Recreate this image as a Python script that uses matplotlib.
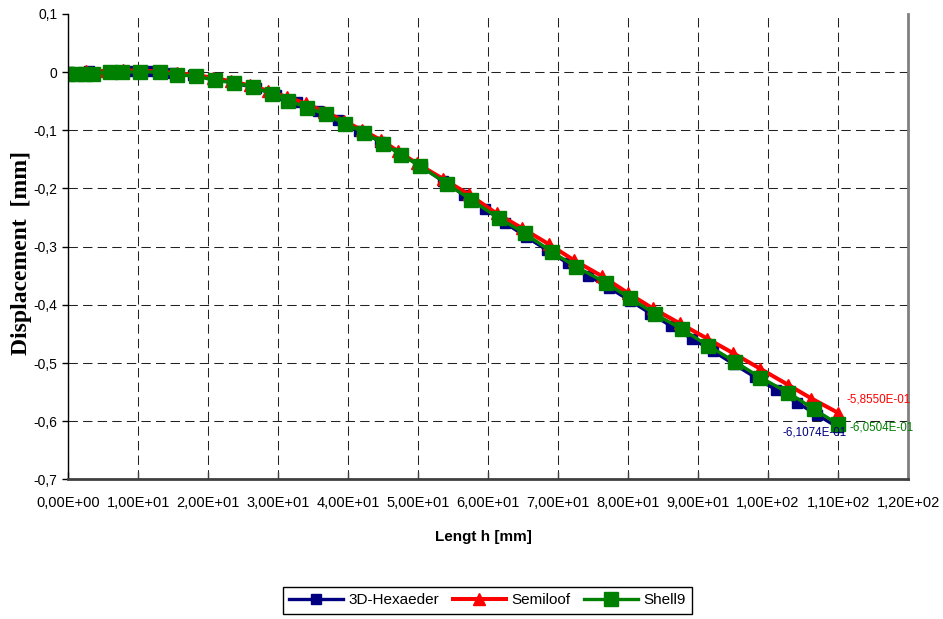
import matplotlib
matplotlib.use("Agg")
import matplotlib.pyplot as plt

plt.rcParams['font.family'] = ['Liberation Sans', 'DejaVu Sans']

# values (length in mm, displacement in mm)
hexa_x = [0, 3.0, 5.9, 8.9, 11.9, 14.9, 17.8, 20.8, 23.8, 26.8, 29.7, 32.7, 35.7,
          38.6, 41.6, 44.6, 47.6, 50.5, 53.5, 56.5, 59.5, 62.4, 65.4, 68.4, 71.4,
          74.3, 77.3, 80.3, 83.2, 86.2, 89.2, 92.2, 95.1, 98.1, 101.1, 104.1, 107.0, 110.0]
hexa_y = [0.0, 0.001, 0.002, 0.002, 0.001, -0.002, -0.006, -0.012, -0.019, -0.028,
          -0.039, -0.052, -0.067, -0.083, -0.101, -0.120, -0.141, -0.163, -0.187,
          -0.211, -0.235, -0.259, -0.283, -0.306, -0.329, -0.350, -0.371, -0.393,
          -0.415, -0.437, -0.459, -0.480, -0.502, -0.524, -0.546, -0.568, -0.589, -0.61074]

semi_x = [0, 2.6, 5.2, 7.8, 10.4, 13.0, 15.5, 18.1, 20.7, 23.3, 25.9, 28.5, 31.2,
          33.9, 36.6, 39.4, 42.0, 44.7, 47.1, 49.8, 53.6, 57.2, 61.2, 64.8, 68.7,
          72.2, 76.3, 80.0, 83.5, 87.4, 91.3, 95.0, 98.9, 102.8, 106.2, 110.0]
semi_y = [0.0, 0.001, 0.002, 0.003, 0.002, 0.001, -0.002, -0.005, -0.010, -0.016,
          -0.023, -0.032, -0.043, -0.054, -0.068, -0.084, -0.100, -0.117, -0.136,
          -0.157, -0.184, -0.210, -0.243, -0.268, -0.296, -0.323, -0.351, -0.380,
          -0.406, -0.432, -0.458, -0.483, -0.510, -0.537, -0.561, -0.58550]

shell_x = [0, 1.2, 2.4, 3.6, 5.9, 7.7, 10.3, 13.1, 15.5, 18.2, 20.9, 23.7, 26.4,
           29.1, 31.4, 34.1, 36.8, 39.6, 42.3, 45.0, 47.5, 50.2, 54.1, 57.6, 61.5,
           65.2, 69.1, 72.6, 76.8, 80.3, 83.9, 87.7, 91.4, 95.3, 98.9, 102.9, 106.5, 110.0]
shell_y = [-0.003, -0.003, -0.003, -0.003, 0.0, 0.0, 0.0, 0.0, -0.005, -0.007,
           -0.014, -0.019, -0.025, -0.038, -0.049, -0.061, -0.073, -0.089, -0.104,
           -0.123, -0.142, -0.161, -0.192, -0.220, -0.251, -0.277, -0.309, -0.335,
           -0.362, -0.389, -0.416, -0.442, -0.470, -0.498, -0.525, -0.551, -0.579, -0.60504]

x_ticks = [0, 10, 20, 30, 40, 50, 60, 70, 80, 90, 100, 110, 120]
x_tick_labels = ['0,00E+00', '1,00E+01', '2,00E+01', '3,00E+01', '4,00E+01',
                 '5,00E+01', '6,00E+01', '7,00E+01', '8,00E+01', '9,00E+01',
                 '1,00E+02', '1,10E+02', '1,20E+02']
y_ticks = [-0.7, -0.6, -0.5, -0.4, -0.3, -0.2, -0.1, 0.0, 0.1]
y_tick_labels = ['-0,7', '-0,6', '-0,5', '-0,4', '-0,3', '-0,2', '-0,1', '0', '0,1']

W, H = 943, 619
fig = plt.figure(figsize=(W / 100, H / 100), dpi=100)
ax = fig.add_axes([68.3 / W, 1 - 479.4 / H, (908 - 68.3) / W, (479.4 - 13.8) / H])

l1, = ax.plot(hexa_x, hexa_y, color='#000080', lw=2.4, marker='s', ms=7,
              label='3D-Hexaeder')
l2, = ax.plot(semi_x, semi_y, color='#ff0000', lw=2.9, marker='^', ms=8,
              label='Semiloof')
l3, = ax.plot(shell_x, shell_y, color='#008000', lw=2.4, marker='s', ms=9.4,
              label='Shell9')

# end-value labels
def sci(v):
    return f"{v:.4E}".replace('.', ',')

ax.annotate(sci(semi_y[-1]), (semi_x[-1], semi_y[-1]), xytext=(6, 9.2),
            textcoords='offset points', color='#ff0000', fontsize=8.4,
            ha='left', va='center')
ax.annotate(sci(shell_y[-1]), (shell_x[-1], shell_y[-1]), xytext=(8.4, -2.6),
            textcoords='offset points', color='#008000', fontsize=8.4,
            ha='left', va='center')
ax.annotate(sci(hexa_y[-1]), (hexa_x[-1], hexa_y[-1]), xytext=(6, -3.6),
            textcoords='offset points', color='#000080', fontsize=8.4,
            ha='right', va='center')

ax.set_xlim(0, 120)
ax.set_ylim(-0.7, 0.1)
ax.set_xticks(x_ticks)
ax.set_xticklabels(x_tick_labels, fontsize=10.5)
ax.set_yticks(y_ticks)
ax.set_yticklabels(y_tick_labels, fontsize=10)

ax.grid(True, color='#222222', linestyle=(0, (9, 5)), linewidth=0.75)
ax.yaxis.get_major_ticks()[-1].gridline.set_visible(False)

ax.tick_params(axis='y', direction='out', length=4, width=1, pad=4)
ax.tick_params(axis='x', direction='in', length=5, width=1, color='#404040', pad=12)

ax.spines['top'].set_visible(False)
ax.spines['left'].set_color('black')
ax.spines['left'].set_linewidth(1)
ax.spines['bottom'].set_color('#404040')
ax.spines['bottom'].set_linewidth(2)
ax.spines['right'].set_color('#808080')
ax.spines['right'].set_linewidth(2)

fig.text(22 / W, 1 - 253 / H, 'Displacement  [mm]', rotation=90, ha='center',
         va='center', family='Liberation Serif', weight='bold', fontsize=17)
fig.text(483 / W, 1 - 537 / H, 'Lengt h [mm]', ha='center', va='center',
         weight='bold', fontsize=11)

leg = fig.legend(handles=[l1, l2, l3], loc='center',
                 bbox_to_anchor=(487.5 / W, 1 - 600.5 / H), ncol=3, fontsize=11,
                 frameon=True, fancybox=False, edgecolor='black', framealpha=1,
                 handlelength=3.5, handletextpad=0.35, columnspacing=0.9,
                 borderpad=0.4, numpoints=1)
leg.get_frame().set_linewidth(1)

fig.savefig('out.png', dpi=100)
